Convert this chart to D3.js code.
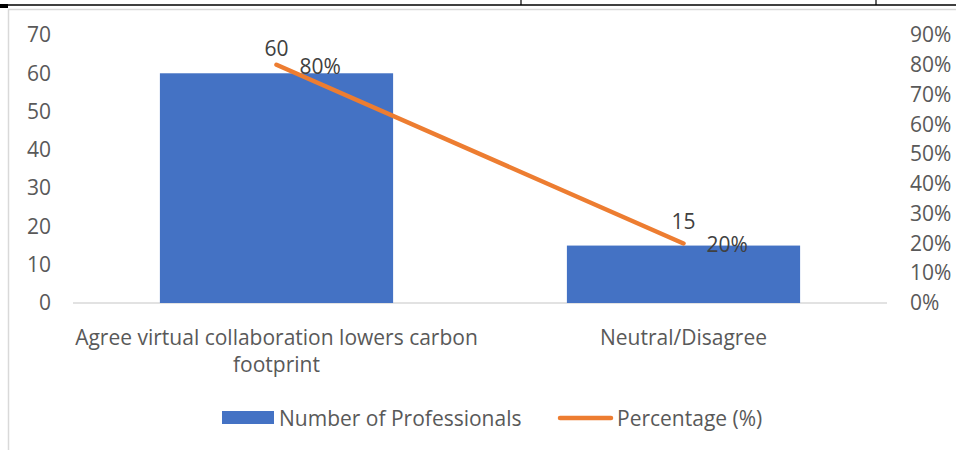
<!DOCTYPE html>
<html>
<head>
<meta charset="utf-8">
<script src="https://cdn.jsdelivr.net/npm/d3@7/dist/d3.min.js"></script>
<style>
  html, body { margin: 0; padding: 0; background: #fff; }
  svg { display: block; }
  text { font-family: "Open Sans", Lato, sans-serif; fill: #595959; }
</style>
</head>
<body>
<svg id="chart" width="956" height="450"></svg>
<script>
// Survey responses on virtual collaboration and carbon footprint
const categories = [["Agree virtual collaboration lowers carbon", "footprint"], ["Neutral/Disagree"]];
const categoryKeys = ["Agree virtual collaboration lowers carbon footprint", "Neutral/Disagree"];
const professionals = [60, 15];
const percentages = [0.80, 0.20];
const leftTicks = [0, 10, 20, 30, 40, 50, 60, 70];
const rightTicks = [0, 0.1, 0.2, 0.3, 0.4, 0.5, 0.6, 0.7, 0.8, 0.9];
const seriesNames = ["Number of Professionals", "Percentage (%)"];

const svg = d3.select("#chart");
const W = 956, H = 450;
const fontSize = 21;
const fontFamily = "'Open Sans', Lato, sans-serif";

// page frame: table rule on top, chart border below it
svg.append("rect").attr("x", 8.5).attr("y", 9.5).attr("width", 1000).attr("height", 500)
  .attr("fill", "none").attr("stroke", "#d9d9d9").attr("stroke-width", 1.5);
svg.append("line").attr("x1", 0).attr("x2", W).attr("y1", 5).attr("y2", 5)
  .attr("stroke", "#000").attr("stroke-width", 1.5);
[521, 876].forEach(x => svg.append("line").attr("x1", x).attr("x2", x).attr("y1", 0).attr("y2", 5)
  .attr("stroke", "#000").attr("stroke-width", 1.2));
svg.append("rect").attr("x", 0).attr("y", 4).attr("width", 8).attr("height", 4).attr("fill", "#000");

const plot = { left: 73, right: 887, top: 35, bottom: 303 };

const x = d3.scaleBand().domain(categoryKeys).range([plot.left, plot.right]).padding(0);
const yL = d3.scaleLinear().domain([0, 70]).range([plot.bottom, plot.top]);
const yR = d3.scaleLinear().domain([0, 0.9]).range([plot.bottom, plot.top]);
const barW = x.bandwidth() * 0.573;

// baseline
svg.append("line").attr("x1", plot.left).attr("x2", plot.right)
  .attr("y1", plot.bottom).attr("y2", plot.bottom)
  .attr("stroke", "#d9d9d9").attr("stroke-width", 1.5);

// left axis labels
const axL = svg.append("g").attr("transform", `translate(${plot.left - 22},0)`)
  .call(d3.axisLeft(yL).tickValues(leftTicks).tickSize(0).tickPadding(0).tickFormat(d3.format("d")));
axL.select(".domain").remove();
axL.selectAll("text").attr("font-size", fontSize).attr("fill", "#595959")
  .style("font-family", fontFamily);

// right axis labels
const axR = svg.append("g").attr("transform", `translate(${plot.right + 23},0)`)
  .call(d3.axisRight(yR).tickValues(rightTicks).tickSize(0).tickPadding(0).tickFormat(d3.format(".0%")));
axR.select(".domain").remove();
axR.selectAll("text").attr("font-size", fontSize).attr("fill", "#595959")
  .style("font-family", fontFamily);

// bars
svg.selectAll("rect.bar").data(professionals).enter().append("rect")
  .attr("class", "bar")
  .attr("x", (d, i) => x(categoryKeys[i]) + (x.bandwidth() - barW) / 2)
  .attr("width", barW)
  .attr("y", d => yL(d))
  .attr("height", d => yL(0) - yL(d))
  .attr("fill", "#4472C4");

// percentage line
const line = d3.line()
  .x((d, i) => x(categoryKeys[i]) + x.bandwidth() / 2)
  .y(d => yR(d));
svg.append("path").datum(percentages).attr("d", line)
  .attr("fill", "none").attr("stroke", "#ED7D31").attr("stroke-width", 4.5)
  .attr("stroke-linecap", "round");

// bar value labels
svg.selectAll("text.barlab").data(professionals).enter().append("text")
  .attr("class", "barlab")
  .attr("x", (d, i) => x(categoryKeys[i]) + x.bandwidth() / 2)
  .attr("y", d => yL(d) - 25)
  .attr("text-anchor", "middle").attr("dominant-baseline", "central")
  .attr("font-size", fontSize).style("fill", "#404040")
  .text(d => d);

// line value labels
svg.selectAll("text.pctlab").data(percentages).enter().append("text")
  .attr("class", "pctlab")
  .attr("x", (d, i) => x(categoryKeys[i]) + x.bandwidth() / 2 + 23)
  .attr("y", d => yR(d) + 1)
  .attr("dominant-baseline", "central")
  .attr("font-size", fontSize).style("fill", "#404040")
  .text(d => d3.format(".0%")(d));

// category labels
categories.forEach((lines, i) => {
  const t = svg.append("text")
    .attr("x", x(categoryKeys[i]) + x.bandwidth() / 2)
    .attr("y", 337)
    .attr("text-anchor", "middle").attr("dominant-baseline", "central")
    .attr("font-size", fontSize);
  lines.forEach((s, j) => t.append("tspan")
    .attr("x", x(categoryKeys[i]) + x.bandwidth() / 2)
    .attr("dy", j === 0 ? 0 : 27).text(s));
});

// legend
const lg = svg.append("g");
lg.append("rect").attr("x", 222).attr("y", 411).attr("width", 52).attr("height", 13).attr("fill", "#4472C4");
lg.append("text").attr("x", 279).attr("y", 418).attr("dominant-baseline", "central")
  .attr("font-size", fontSize).text(seriesNames[0]);
lg.append("line").attr("x1", 560).attr("x2", 611).attr("y1", 418).attr("y2", 418)
  .attr("stroke", "#ED7D31").attr("stroke-width", 4.5).attr("stroke-linecap", "round");
lg.append("text").attr("x", 617).attr("y", 418).attr("dominant-baseline", "central")
  .attr("font-size", fontSize).text(seriesNames[1]);
</script>
</body>
</html>
